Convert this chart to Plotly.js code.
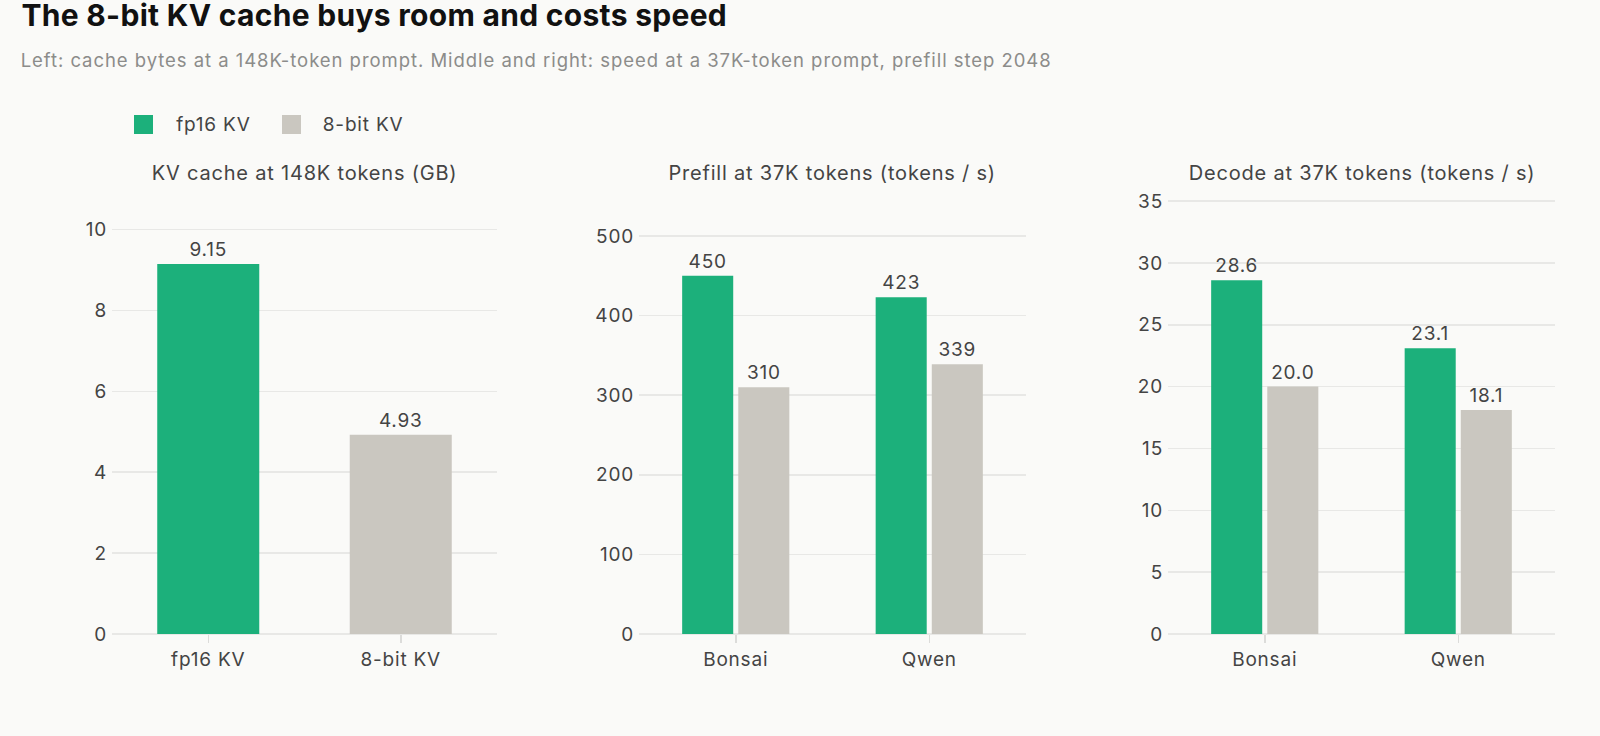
<!DOCTYPE html>
<html>
<head>
<meta charset="utf-8">
<script src="https://cdn.plot.ly/plotly-3.0.1.min.js"></script>
<style>
  html, body { margin: 0; padding: 0; background: #fafaf8; }
  #chart { width: 1600px; height: 736px; }
  #chart svg text { letter-spacing: 0.8px; }
  #chart g.annotation[data-index="0"] text { letter-spacing: 0.3px; }
  #chart g.annotation[data-index="1"] text { letter-spacing: 0.95px; }
</style>
</head>
<body>
<div id="chart"></div>
<script>
// ---- data ----
const seriesNames = ["fp16 KV", "8-bit KV"];
const cacheCategories = ["fp16 KV", "8-bit KV"];
const cacheGB = [9.15, 4.93];
const models = ["Bonsai", "Qwen"];
const prefillFp16 = [450, 423];
const prefill8bit = [310, 339];
const decodeFp16 = [28.6, 23.1];
const decode8bit = [20.0, 18.1];
const panelTitles = [
  "KV cache at 148K tokens (GB)",
  "Prefill at 37K tokens (tokens / s)",
  "Decode at 37K tokens (tokens / s)"
];
const chartTitle = "The 8-bit KV cache buys room and costs speed";
const chartSubtitle = "Left: cache bytes at a 148K-token prompt. Middle and right: speed at a 37K-token prompt, prefill step 2048";

// ---- style ----
const GREEN = "#1cb07b";
const GRAY = "#cac7c0";
const SERIES_COLORS = [GREEN, GRAY];
const FONT = "Inter, 'Noto Sans', sans-serif";
const TXT = "#444444";
const GRID = "#e8e8e6";
const BG = "#fafaf8";
const LS = 0.8, LS_TITLE = 0.3, LS_SUB = 0.95; // letter-spacing used in CSS above

const labelFont = { family: FONT, size: 19, color: TXT };

const traces = [
  {
    type: "bar", x: cacheCategories, y: cacheGB, xaxis: "x", yaxis: "y",
    marker: { color: SERIES_COLORS }, width: 0.53, showlegend: false,
    text: cacheGB.map(v => v.toFixed(2)), textposition: "outside",
    textfont: labelFont, cliponaxis: false
  },
  {
    type: "bar", x: models, y: prefillFp16, xaxis: "x2", yaxis: "y2", name: seriesNames[0],
    marker: { color: GREEN }, showlegend: false,
    text: prefillFp16.map(v => v.toFixed(0)), textposition: "outside",
    textfont: labelFont, cliponaxis: false
  },
  {
    type: "bar", x: models, y: prefill8bit, xaxis: "x2", yaxis: "y2", name: seriesNames[1],
    marker: { color: GRAY }, showlegend: false,
    text: prefill8bit.map(v => v.toFixed(0)), textposition: "outside",
    textfont: labelFont, cliponaxis: false
  },
  {
    type: "bar", x: models, y: decodeFp16, xaxis: "x3", yaxis: "y3", name: seriesNames[0],
    marker: { color: GREEN }, showlegend: false,
    text: decodeFp16.map(v => v.toFixed(1)), textposition: "outside",
    textfont: labelFont, cliponaxis: false
  },
  {
    type: "bar", x: models, y: decode8bit, xaxis: "x3", yaxis: "y3", name: seriesNames[1],
    marker: { color: GRAY }, showlegend: false,
    text: decode8bit.map(v => v.toFixed(1)), textposition: "outside",
    textfont: labelFont, cliponaxis: false
  }
];

const W = 1600;
const plotTop = 194, plotBottom = 634, H = plotBottom - plotTop;
const py = px => (plotBottom - px) / H;
// left-anchored annotation whose text gets CSS letter-spacing: compensate centred growth
const leftX = (px, text, ls) => (px + text.length * ls / 2) / W;

const domains = [[112 / W, 497 / W], [639 / W, 1026 / W], [1168 / W, 1555 / W]];

function xAxis(i) {
  return {
    domain: domains[i], anchor: i === 0 ? "y" : "y" + (i + 1),
    type: "category", showgrid: false, showline: false, zeroline: false,
    ticks: "outside", ticklen: 8, tickwidth: 1.5, tickcolor: "#dcdcda",
    tickfont: labelFont, fixedrange: true
  };
}
function yAxis(i, range, dtick) {
  return {
    domain: [0, 1], anchor: i === 0 ? "x" : "x" + (i + 1),
    range: range, dtick: dtick, showgrid: true, gridcolor: GRID, gridwidth: 1.5,
    zeroline: true, zerolinecolor: GRID, zerolinewidth: 1.5, showline: false,
    ticks: "", ticklabelstandoff: 4,
    tickfont: labelFont, fixedrange: true
  };
}

const annotations = [
  { text: "<b>" + chartTitle + "</b>", xref: "paper", yref: "paper",
    x: leftX(19, chartTitle, LS_TITLE), y: py(14.5),
    xanchor: "left", yanchor: "middle", showarrow: false,
    font: { family: FONT, size: 30, color: "#111111" } },
  { text: chartSubtitle, xref: "paper", yref: "paper",
    x: leftX(19, chartSubtitle, LS_SUB), y: py(60),
    xanchor: "left", yanchor: "middle", showarrow: false,
    font: { family: FONT, size: 18.5, color: "#8c8c8a" } }
];
panelTitles.forEach((t, i) => {
  annotations.push({
    text: t, xref: "paper", yref: "paper", x: (domains[i][0] + domains[i][1]) / 2, y: py(173),
    xanchor: "center", yanchor: "middle", showarrow: false,
    font: { family: FONT, size: 20, color: TXT }
  });
});

// legend (swatches + labels)
const legendSwatchX = [134, 282];
const legendTextX = [174, 321];
const shapes = [];
seriesNames.forEach((name, i) => {
  shapes.push({
    type: "rect", xref: "paper", yref: "paper",
    x0: legendSwatchX[i] / W, x1: (legendSwatchX[i] + 19) / W,
    y0: py(134), y1: py(115),
    fillcolor: SERIES_COLORS[i], line: { width: 0 }
  });
  annotations.push({
    text: name, xref: "paper", yref: "paper", x: leftX(legendTextX[i], name, LS), y: py(124.5),
    xanchor: "left", yanchor: "middle", showarrow: false, font: labelFont
  });
});

const layout = {
  width: 1600, height: 736,
  margin: { l: 0, r: 0, t: plotTop, b: 736 - plotBottom },
  paper_bgcolor: BG, plot_bgcolor: BG,
  font: { family: FONT, color: TXT },
  barmode: "group", bargap: 0.42, bargroupgap: 0.09,
  showlegend: false,
  xaxis: xAxis(0), xaxis2: xAxis(1), xaxis3: xAxis(2),
  yaxis: yAxis(0, [0, 10.88], 2),
  yaxis2: yAxis(1, [0, 552.8], 100),
  yaxis3: yAxis(2, [0, 35.57], 5),
  annotations: annotations,
  shapes: shapes
};

Plotly.newPlot("chart", traces, layout, { displayModeBar: false, staticPlot: true });
</script>
</body>
</html>
